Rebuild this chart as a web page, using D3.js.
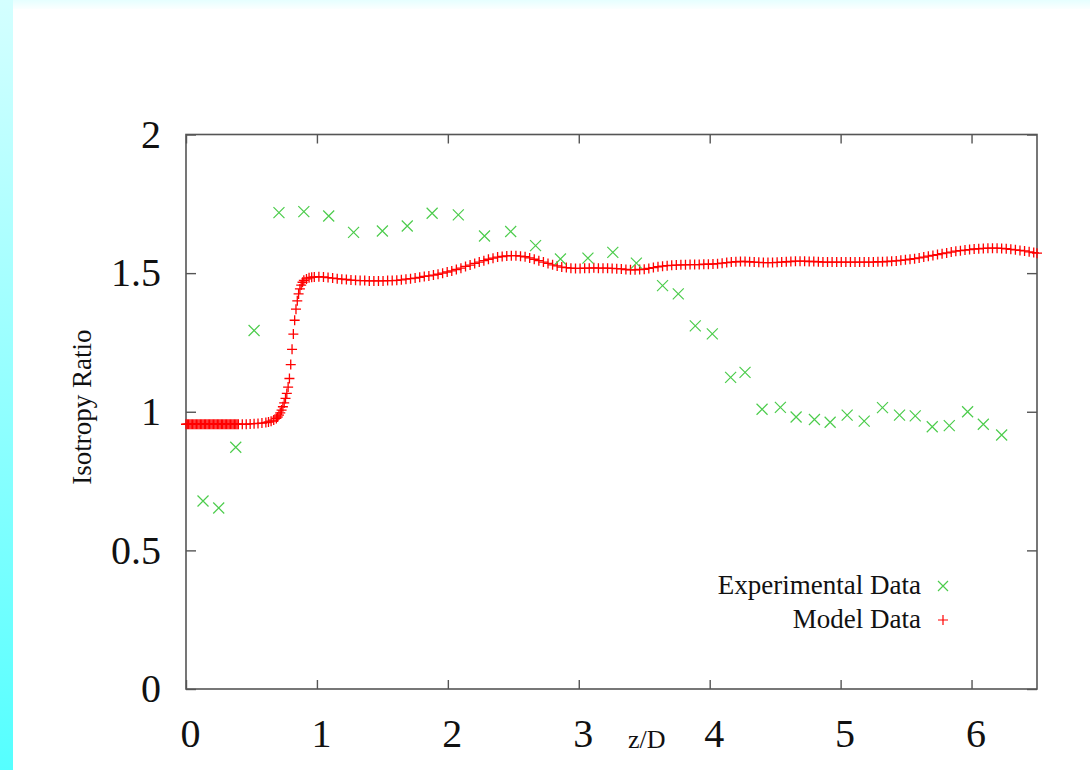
<!DOCTYPE html>
<html>
<head>
<meta charset="utf-8">
<script src="https://cdn.jsdelivr.net/npm/d3@7/dist/d3.min.js"></script>
<style>
  html, body { margin: 0; padding: 0; background: #ffffff; }
  svg { display: block; }
  text { font-family: "Liberation Serif", "DejaVu Serif", serif; fill: #111; }
</style>
</head>
<body>
<svg id="chart" width="1090" height="770"></svg>
<script>
// Measured isotropy ratio along the jet axis
const expZ = [0.13, 0.25, 0.38, 0.52, 0.71, 0.90, 1.09, 1.28, 1.50, 1.69,
  1.88, 2.08, 2.28, 2.48, 2.67, 2.86, 3.07, 3.26, 3.44, 3.64,
  3.76, 3.89, 4.02, 4.16, 4.27, 4.40, 4.54, 4.66, 4.80, 4.92,
  5.05, 5.18, 5.32, 5.45, 5.57, 5.70, 5.83, 5.97, 6.09, 6.23];
const expRatio = [0.678, 0.653, 0.872, 1.293, 1.718, 1.722, 1.706, 1.647, 1.652, 1.670,
  1.716, 1.710, 1.634, 1.650, 1.599, 1.551, 1.554, 1.575, 1.536, 1.455,
  1.425, 1.310, 1.281, 1.124, 1.142, 1.009, 1.016, 0.981, 0.972, 0.962,
  0.988, 0.966, 1.015, 0.988, 0.985, 0.946, 0.950, 1.000, 0.955, 0.916];

// Model stations (z/D) and predicted ratio
const modelZ = [
  0.00, 0.01, 0.02, 0.03, 0.04, 0.05, 0.06, 0.07, 0.08, 0.09,
  0.10, 0.11, 0.12, 0.13, 0.14, 0.15, 0.16, 0.17, 0.18, 0.19,
  0.20, 0.21, 0.22, 0.23, 0.24, 0.25, 0.26, 0.27, 0.28, 0.29,
  0.30, 0.31, 0.32, 0.33, 0.34, 0.35, 0.36, 0.37, 0.38, 0.39, 0.40,
  0.43, 0.46, 0.49, 0.52, 0.55, 0.58, 0.61, 0.63, 0.65, 0.67, 0.69, 0.70, 0.71,
  0.72, 0.73, 0.74, 0.75, 0.76, 0.77, 0.78, 0.79, 0.80, 0.81, 0.82, 0.83,
  0.84, 0.85, 0.86, 0.87, 0.88, 0.89, 0.90, 0.92, 0.94, 0.96,
  0.980, 1.015, 1.050, 1.085, 1.120, 1.155, 1.190, 1.225, 1.260, 1.295,
  1.330, 1.365, 1.400, 1.435, 1.470, 1.505, 1.540, 1.575, 1.610, 1.645,
  1.680, 1.715, 1.750, 1.785, 1.820, 1.855, 1.890, 1.925, 1.960, 1.995,
  2.030, 2.065, 2.100, 2.135, 2.170, 2.205, 2.240, 2.275, 2.310, 2.345,
  2.380, 2.415, 2.450, 2.485, 2.520, 2.555, 2.590, 2.625, 2.660, 2.695,
  2.730, 2.765, 2.800, 2.835, 2.870, 2.905, 2.940, 2.975, 3.010, 3.045,
  3.080, 3.115, 3.150, 3.185, 3.220, 3.255, 3.290, 3.325, 3.360, 3.395,
  3.430, 3.465, 3.500, 3.535, 3.570, 3.605, 3.640, 3.675, 3.710, 3.745,
  3.780, 3.815, 3.850, 3.885, 3.920, 3.955, 3.990, 4.025, 4.060, 4.095,
  4.130, 4.165, 4.200, 4.235, 4.270, 4.305, 4.340, 4.375, 4.410, 4.445,
  4.480, 4.515, 4.550, 4.585, 4.620, 4.655, 4.690, 4.725, 4.760, 4.795,
  4.830, 4.865, 4.900, 4.935, 4.970, 5.005, 5.040, 5.075, 5.110, 5.145,
  5.180, 5.215, 5.250, 5.285, 5.320, 5.355, 5.390, 5.425, 5.460, 5.495,
  5.530, 5.565, 5.600, 5.635, 5.670, 5.705, 5.740, 5.775, 5.810, 5.845,
  5.880, 5.915, 5.950, 5.985, 6.020, 6.055, 6.090, 6.125, 6.160, 6.195,
  6.230, 6.265, 6.300, 6.335, 6.370, 6.405, 6.440, 6.475, 6.500
];
const modelRatio = [
  0.955, 0.955, 0.955, 0.955, 0.955, 0.955, 0.955, 0.955, 0.955, 0.955,
  0.955, 0.955, 0.955, 0.955, 0.955, 0.955, 0.955, 0.955, 0.955, 0.955,
  0.955, 0.955, 0.955, 0.955, 0.955, 0.955, 0.955, 0.955, 0.955, 0.955,
  0.955, 0.955, 0.955, 0.955, 0.955, 0.955, 0.955, 0.955, 0.955, 0.955, 0.955,
  0.955, 0.955, 0.956, 0.957, 0.958, 0.959, 0.961, 0.963, 0.966, 0.970, 0.976, 0.981, 0.988,
  0.996, 1.006, 1.018, 1.032, 1.048, 1.066, 1.089, 1.120, 1.170, 1.225, 1.280, 1.330,
  1.370, 1.400, 1.425, 1.443, 1.457, 1.467, 1.474, 1.479, 1.483, 1.485,
  1.486, 1.487, 1.486, 1.484, 1.482, 1.480, 1.478, 1.477, 1.475, 1.474,
  1.473, 1.473, 1.472, 1.472, 1.472, 1.472, 1.473, 1.473, 1.474, 1.476,
  1.478, 1.480, 1.482, 1.485, 1.488, 1.490, 1.493, 1.496, 1.500, 1.504,
  1.508, 1.513, 1.518, 1.524, 1.529, 1.535, 1.540, 1.545, 1.550, 1.554,
  1.558, 1.560, 1.562, 1.563, 1.563, 1.561, 1.559, 1.555, 1.550, 1.545,
  1.540, 1.535, 1.530, 1.526, 1.522, 1.520, 1.518, 1.517, 1.517, 1.518,
  1.518, 1.519, 1.518, 1.518, 1.518, 1.517, 1.516, 1.515, 1.513, 1.512,
  1.512, 1.513, 1.514, 1.517, 1.520, 1.523, 1.525, 1.527, 1.528, 1.529,
  1.530, 1.530, 1.531, 1.531, 1.531, 1.532, 1.532, 1.533, 1.534, 1.536,
  1.538, 1.540, 1.541, 1.542, 1.542, 1.541, 1.540, 1.539, 1.538, 1.538,
  1.538, 1.539, 1.540, 1.541, 1.542, 1.543, 1.543, 1.543, 1.542, 1.542,
  1.541, 1.540, 1.540, 1.540, 1.540, 1.540, 1.540, 1.540, 1.540, 1.540,
  1.540, 1.540, 1.540, 1.541, 1.541, 1.542, 1.543, 1.544, 1.546, 1.548,
  1.550, 1.552, 1.555, 1.558, 1.561, 1.564, 1.567, 1.570, 1.573, 1.576,
  1.579, 1.581, 1.583, 1.585, 1.587, 1.588, 1.589, 1.590, 1.590, 1.590,
  1.589, 1.588, 1.586, 1.584, 1.582, 1.580, 1.577, 1.574, 1.572
];

const xTicks = [0, 1, 2, 3, 4, 5, 6];
const yTicks = [0, 0.5, 1, 1.5, 2];
const xLabel = "z/D";
const yLabel = "Isotropy Ratio";
const seriesNames = ["Experimental Data", "Model Data"];

const svg = d3.select("#chart");
const W = 1090, H = 770;
const frame = { left: 186, right: 1037, top: 134.5, bottom: 689 };

// slide background: cyan strip at the left edge, faint tint along the top
const defs = svg.append("defs");
const grad = defs.append("linearGradient").attr("id", "strip")
  .attr("x1", 0).attr("y1", 0).attr("x2", 0).attr("y2", 1);
grad.append("stop").attr("offset", "0%").attr("stop-color", "#d4ffff");
grad.append("stop").attr("offset", "100%").attr("stop-color", "#55ffff");
const topGrad = defs.append("linearGradient").attr("id", "topband")
  .attr("x1", 0).attr("y1", 0).attr("x2", 0).attr("y2", 1);
topGrad.append("stop").attr("offset", "0%").attr("stop-color", "#e6ffff");
topGrad.append("stop").attr("offset", "100%").attr("stop-color", "#fbffff");

svg.append("rect").attr("width", W).attr("height", H).attr("fill", "#ffffff");
svg.append("rect").attr("x", 0).attr("y", 0).attr("width", W).attr("height", 9)
  .attr("fill", "url(#topband)");
svg.append("rect").attr("x", 0).attr("y", 0).attr("width", 13).attr("height", H)
  .attr("fill", "url(#strip)");

const x = d3.scaleLinear().domain([0, 6.5]).range([frame.left, frame.right]);
const y = d3.scaleLinear().domain([0, 2]).range([frame.bottom, frame.top]);

const axisColor = "#555";
const fmt = d => d3.format("")(d);

function styleAxis(g, showLabels, size) {
  g.select(".domain").remove();
  g.selectAll(".tick line").attr("stroke", axisColor).attr("stroke-width", 1.4);
  g.selectAll(".tick text")
    .attr("font-family", "'Liberation Serif', serif")
    .attr("font-size", size)
    .attr("fill", "#111");
  if (!showLabels) g.selectAll(".tick text").remove();
}

svg.append("g").attr("transform", `translate(0,${frame.bottom})`)
  .call(d3.axisBottom(x).tickValues(xTicks).tickFormat(fmt).tickSize(-9).tickPadding(30))
  .call(g => styleAxis(g, true, 40))
  .call(g => g.selectAll(".tick text").attr("dx", 4));
svg.append("g").attr("transform", `translate(0,${frame.top})`)
  .call(d3.axisTop(x).tickValues(xTicks).tickSize(-9))
  .call(g => styleAxis(g, false, 40));
svg.append("g").attr("transform", `translate(${frame.left},0)`)
  .call(d3.axisLeft(y).tickValues(yTicks).tickFormat(fmt).tickSize(-10).tickPadding(25))
  .call(g => styleAxis(g, true, 40));
svg.append("g").attr("transform", `translate(${frame.right},0)`)
  .call(d3.axisRight(y).tickValues(yTicks).tickSize(-10))
  .call(g => styleAxis(g, false, 40));

// plot border
svg.append("rect")
  .attr("x", frame.left).attr("y", frame.top)
  .attr("width", frame.right - frame.left).attr("height", frame.bottom - frame.top)
  .attr("fill", "none").attr("stroke", axisColor).attr("stroke-width", 1.6);

// axis titles
svg.append("text")
  .attr("transform", `translate(91,${407}) rotate(-90)`)
  .attr("text-anchor", "middle")
  .attr("font-size", 27)
  .text(yLabel);
svg.append("text")
  .attr("x", 628).attr("y", 748)
  .attr("font-size", 26)
  .text(xLabel);

const green = "#4ccc4c";
const red = "#ff0000";
const crossPath = s => `M${-s},${-s}L${s},${s}M${-s},${s}L${s},${-s}`;
const plusPath = s => `M${-s},0L${s},0M0,${-s}L0,${s}`;

const plot = svg.append("g");

// model series: red plus markers
const modelData = modelZ.map((z, i) => ({ z, r: modelRatio[i] }));
plot.append("g").selectAll("path").data(modelData).join("path")
  .attr("transform", d => `translate(${x(d.z)},${y(d.r)})`)
  .attr("d", plusPath(5))
  .attr("stroke", red).attr("stroke-width", 1.3).attr("fill", "none");

// experimental series: green cross markers
const expData = expZ.map((z, i) => ({ z, r: expRatio[i] }));
plot.append("g").selectAll("path").data(expData).join("path")
  .attr("transform", d => `translate(${x(d.z)},${y(d.r)})`)
  .attr("d", crossPath(5.5))
  .attr("stroke", green).attr("stroke-width", 1.2).attr("fill", "none");

// legend
const legend = svg.append("g");
const legendRows = [
  { name: seriesNames[0], color: green, path: crossPath(5), y: 594 },
  { name: seriesNames[1], color: red, path: plusPath(5), y: 628 }
];
legendRows.forEach(row => {
  legend.append("text")
    .attr("x", 921).attr("y", row.y)
    .attr("text-anchor", "end")
    .attr("font-size", 27)
    .text(row.name);
  legend.append("path")
    .attr("transform", `translate(943,${row.y - 8})`)
    .attr("d", row.path)
    .attr("stroke", row.color).attr("stroke-width", 1.2).attr("fill", "none");
});
</script>
</body>
</html>
